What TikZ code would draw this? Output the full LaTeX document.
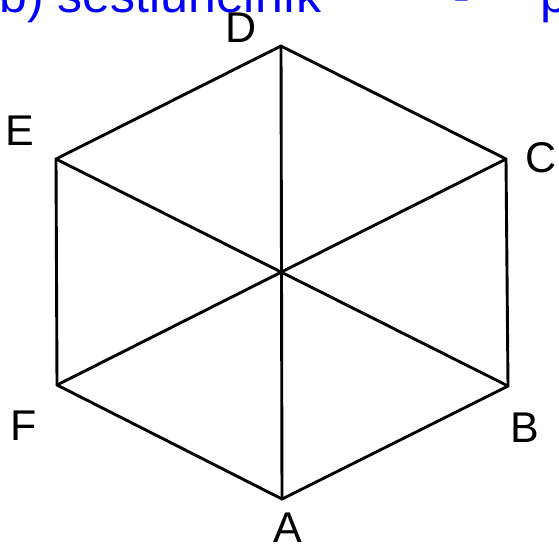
\documentclass[tikz,border=0pt]{standalone}
\usepackage{fontspec}
\setmainfont{Liberation Sans}
\definecolor{titleblue}{RGB}{0,0,250}
\tikzset{
  edge/.style={line width=2.9pt, black},
  vlabel/.style={inner sep=0pt, font=\fontsize{43}{50}\selectfont},
  title/.style={inner sep=0pt, text=titleblue, font=\fontsize{50}{58}\selectfont}
}
\begin{document}
\begin{tikzpicture}[x=1pt,y=-1pt]
\useasboundingbox (0,0) rectangle (559,547);
\clip (0,0) rectangle (559,547);
% cut-off heading
\node[title, anchor=base east] (t1) at (322,12) {b) šestiúhelník};
\node[title, anchor=base] (t2) at (462,12) {-};
\node[title, anchor=base west] (t3) at (540,12) {p};
% vertices
\coordinate (A) at (282,499);
\coordinate (B) at (508,386);
\coordinate (C) at (506,159);
\coordinate (D) at (281,46);
\coordinate (E) at (56,159);
\coordinate (F) at (57,385);
% hexagon and diagonals
\draw[edge] (A) -- (B) -- (C) -- (D) -- (E) -- (F) -- cycle;
\draw[edge] (A) -- (D);
\draw[edge] (B) -- (E);
\draw[edge] (C) -- (F);
% labels
\node[vlabel] (lA) at (288,528) {A};
\node[vlabel] (lB) at (525,428) {B};
\node[vlabel] (lC) at (541,158) {C};
\node[vlabel] (lD) at (241,28) {D};
\node[vlabel] (lE) at (20,131) {E};
\node[vlabel] (lF) at (24,426) {F};
\end{tikzpicture}
\end{document}
